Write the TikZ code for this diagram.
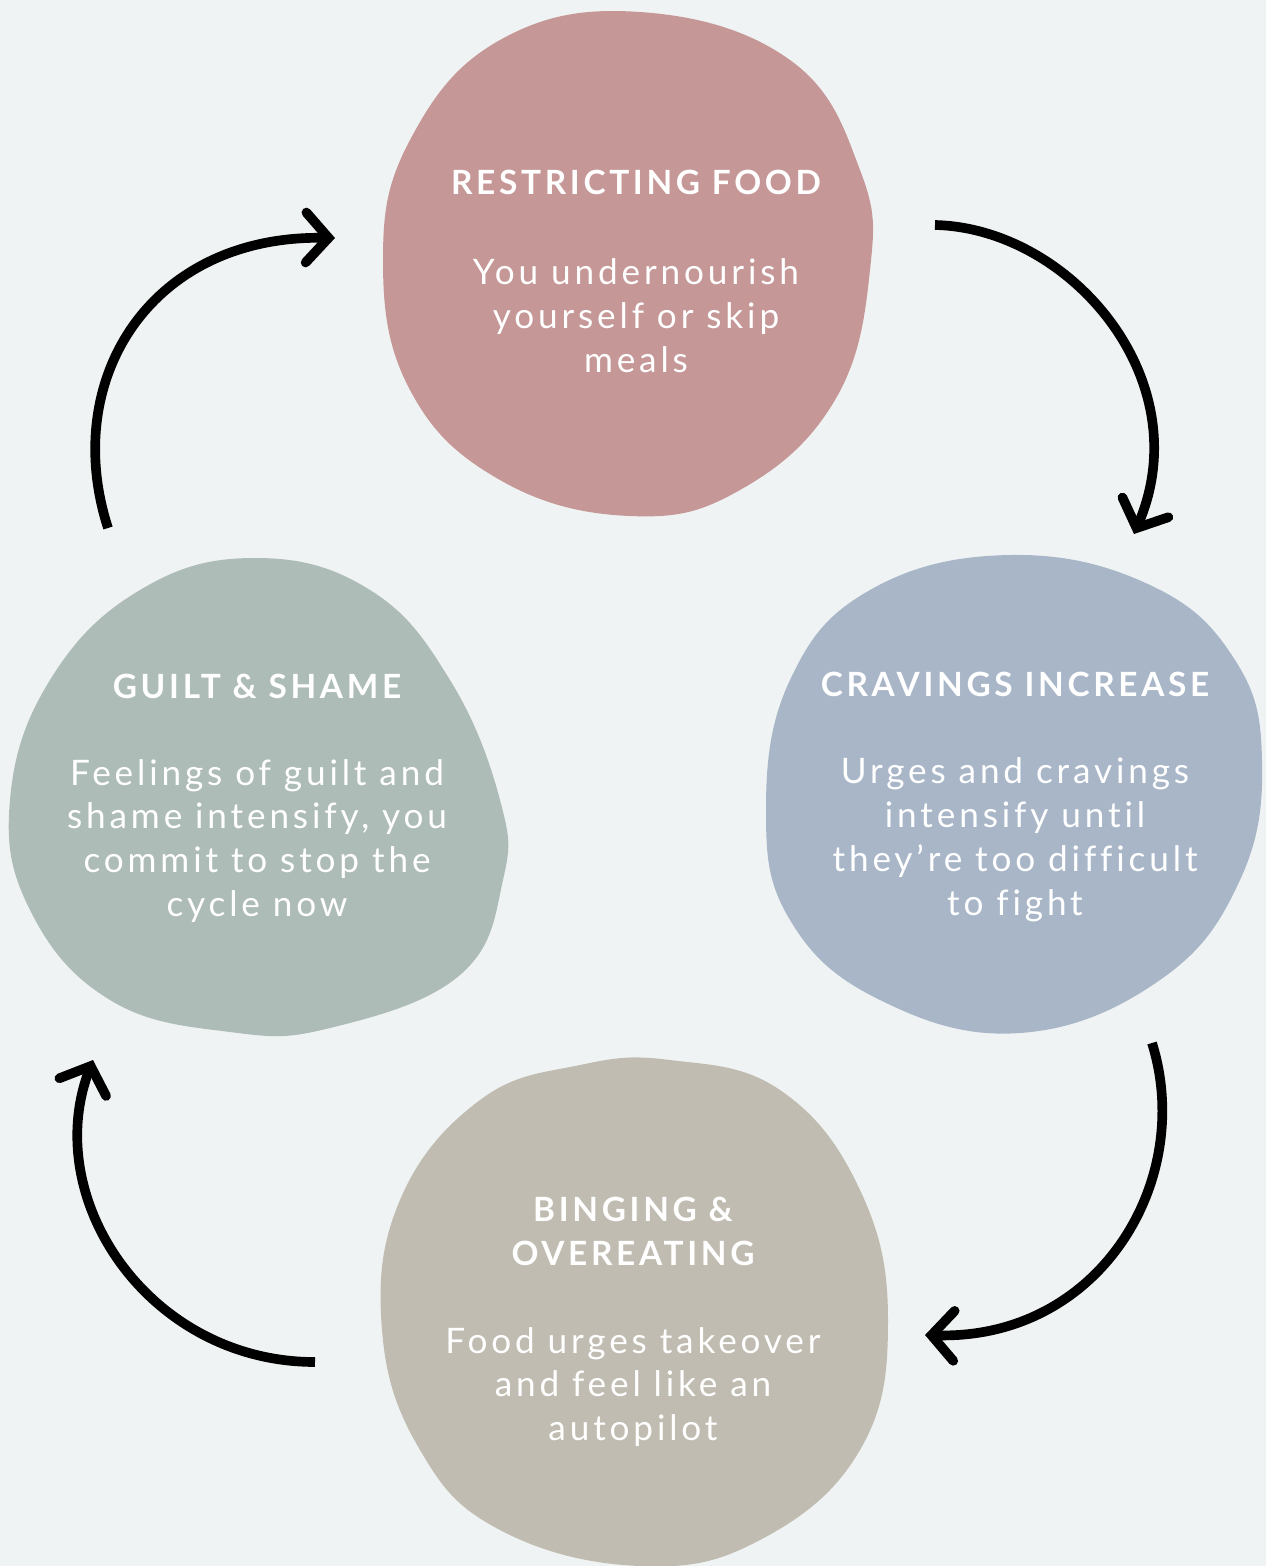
\documentclass[tikz,border=0pt]{standalone}
\usepackage{fontspec}
\setmainfont{Lato}
\newfontfamily\headfont[LetterSpace=11]{Lato}
\newfontfamily\bodyfont[LetterSpace=11,Ligatures=NoCommon]{Lato}
\usetikzlibrary{arrows.meta}
\definecolor{paper}{HTML}{F0F3F3}
\definecolor{rosy}{HTML}{C69797}
\definecolor{slate}{HTML}{A8B6C8}
\definecolor{sage}{HTML}{AEBCB8}
\definecolor{stone}{HTML}{C0BCB1}
\tikzset{
  heading/.style={text=white, align=center, font=\headfont\bfseries\fontsize{19}{25}\selectfont},
  body/.style={text=white, align=center, font=\bodyfont\fontsize{20}{25}\selectfont},
  cycle arrow/.style={line width=5.5pt, -{Straight Barb[length=4.5mm,width=10mm,line cap=round]}}
}
\begin{document}
\begin{tikzpicture}[x=0.02cm, y=-0.02cm]
  % Background
  \fill [paper] (0,0) rectangle (1266,1566);
  \useasboundingbox (0,0) rectangle (1266,1566);

  % Blobs
  \fill [rosy] plot [smooth cycle, tension=0.7] coordinates {(640,12) (790,60) (860,170) (870,270) (835,400) (740,490) (630,516) (500,480) (410,390) (383,260) (410,140) (500,40)};
  \fill [slate] plot [smooth cycle, tension=0.7] coordinates {(1010,555) (1150,585) (1235,660) (1262,760) (1240,880) (1160,980) (1020,1033) (880,1000) (790,920) (766,810) (790,680) (870,590)};
  \fill [sage] plot [smooth cycle, tension=0.7] coordinates {(255,558) (370,590) (450,680) (500,800) (503,880) (460,975) (330,1028) (230,1032) (110,1000) (30,910) (10,800) (50,680) (140,590)};
  \fill [stone] plot [smooth cycle, tension=0.7] coordinates {(670,1060) (780,1090) (860,1190) (888,1320) (860,1450) (760,1540) (640,1566) (500,1530) (420,1450) (382,1330) (400,1200) (480,1100) (580,1065)};

  % Texts
  \node [heading] (restrictT) at (636,182) {RESTRICTING FOOD};
  \node [body] (restrictB) at (636,316) {You undernourish\\yourself or skip\\meals};
  \node [heading] (cravingT) at (1015,684) {CRAVINGS INCREASE};
  \node [body] (cravingB) at (1015,840) {Urges and cravings\\intensify until\\they’re too difficult\\to fight};
  \node [heading] (bingeT) at (633,1231) {BINGING \&\\OVEREATING};
  \node [body] (bingeB) at (633,1387) {Food urges takeover\\and feel like an\\autopilot};
  \node [heading] (guiltT) at (257,686) {GUILT \& SHAME};
  \node [body] (guiltB) at (257,841) {Feelings of guilt and\\shame intensify, you\\commit to stop the\\cycle now};

  % Arrow ends
  \coordinate (a1s) at (935,225);
  \coordinate (a1e) at (1134,534);
  \coordinate (a2s) at (1152,1043);
  \coordinate (a2e) at (925,1335);
  \coordinate (a3s) at (315,1362);
  \coordinate (a3e) at (93,1060);
  \coordinate (a4s) at (108,528);
  \coordinate (a4e) at (335,238);

  % Cycle arrows
  \draw [cycle arrow] (a1s) .. controls (1070,228) and (1200,380) .. (a1e);
  \draw [cycle arrow] (a2s) .. controls (1195,1180) and (1100,1340) .. (a2e);
  \draw [cycle arrow] (a3s) .. controls (150,1362) and (40,1200) .. (a3e);
  \draw [cycle arrow] (a4s) .. controls (60,380) and (150,235) .. (a4e);
\end{tikzpicture}
\end{document}
